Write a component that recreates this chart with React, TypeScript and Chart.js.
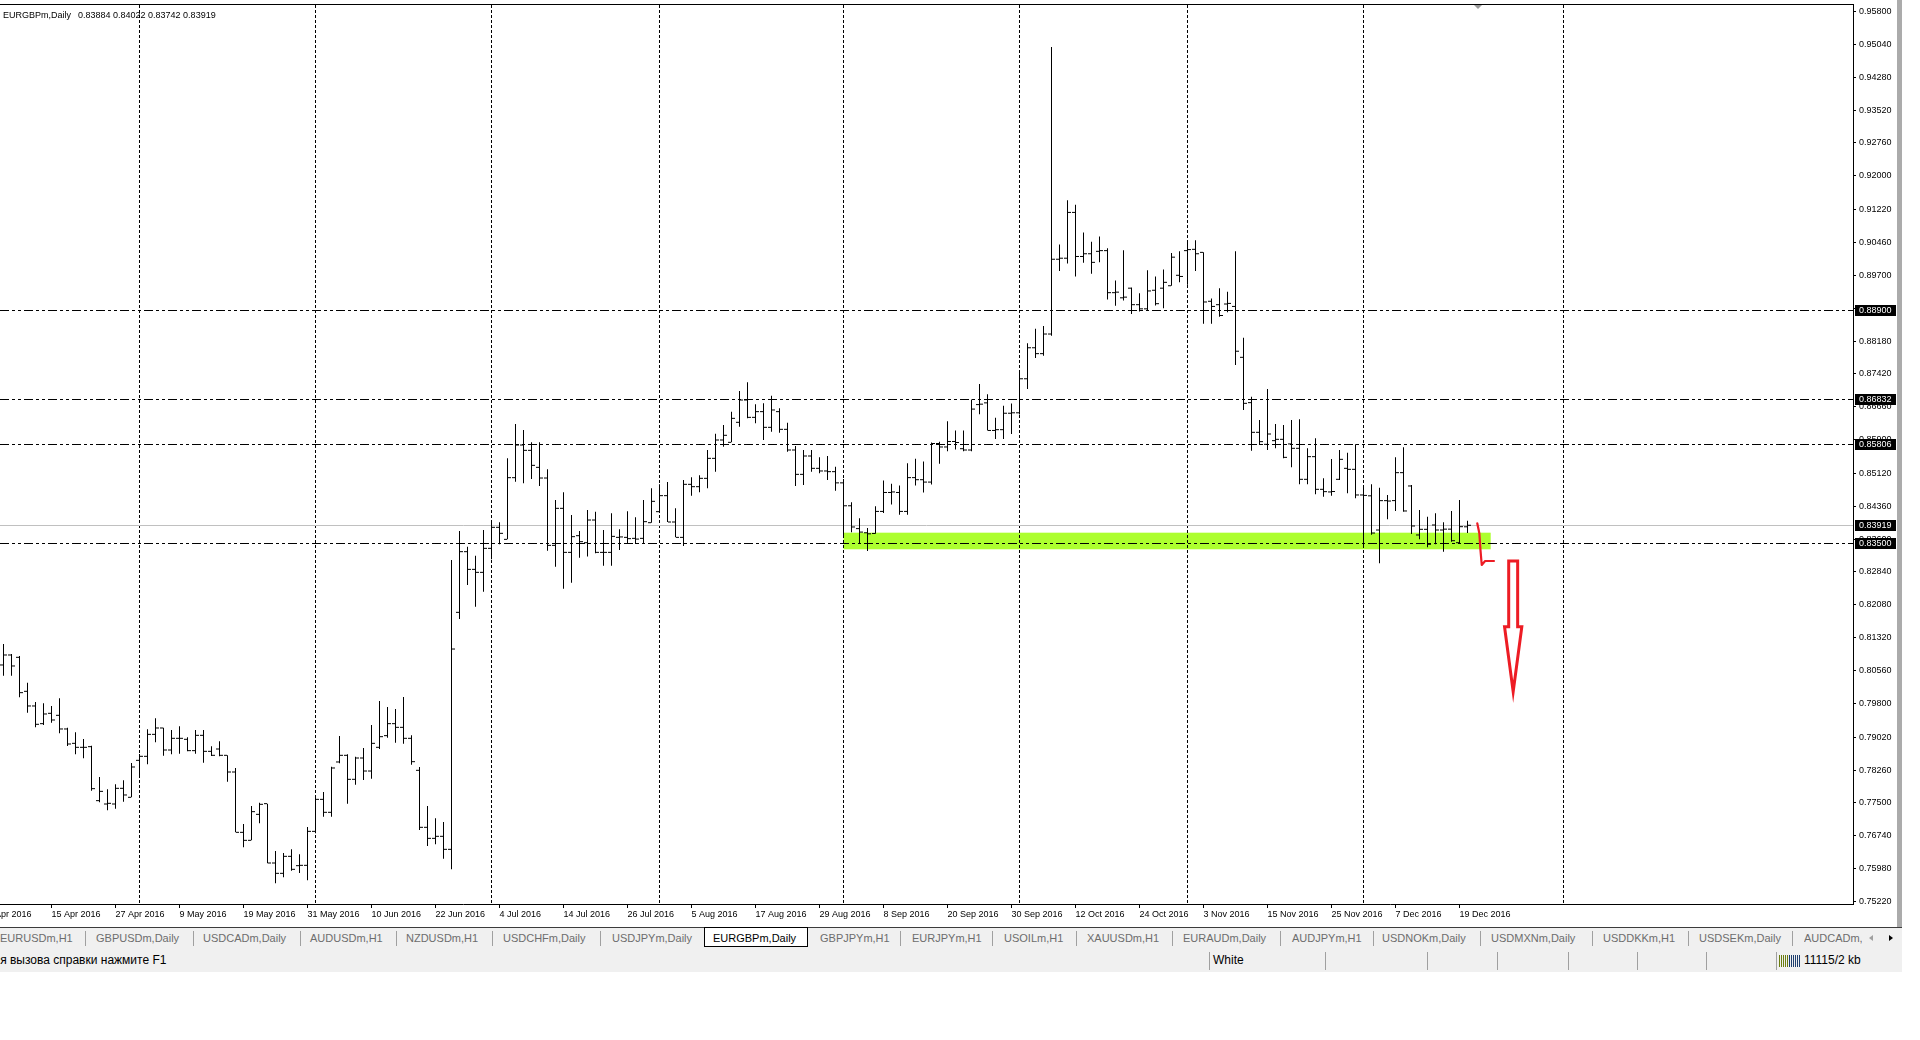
import React, { useEffect, useRef } from "react";
import { Chart, registerables } from "chart.js";

Chart.register(...registerables);

// ---- OHLC data (EURGBPm, Daily), bar 0 = 7 Apr 2016 ... bar 183 = 20 Dec 2016 ----
const OPEN = [
  0.80689, 0.80920, 0.80866, 0.80080, 0.79741, 0.79332, 0.79571, 0.79525, 0.79209, 0.78877,
  0.78785, 0.78800, 0.77552, 0.77474, 0.77474, 0.77837, 0.77629, 0.78484, 0.78577, 0.79085,
  0.79232, 0.78723, 0.78993, 0.78970, 0.78708, 0.79062, 0.78692, 0.78746, 0.78600, 0.78214,
  0.76819, 0.76634, 0.77235, 0.77482, 0.76110, 0.75871, 0.76264, 0.76048, 0.76056, 0.76842,
  0.77582, 0.77282, 0.78446, 0.78600, 0.78045, 0.78538, 0.78237, 0.78785, 0.79055, 0.79332,
  0.79247, 0.78993, 0.78253, 0.76935, 0.76680, 0.76727, 0.76426, 0.81906, 0.83309, 0.82900,
  0.82831, 0.83386, 0.83872, 0.83594, 0.85020, 0.85775, 0.85652, 0.85259, 0.85012, 0.83455,
  0.84311, 0.83293, 0.83679, 0.83517, 0.84041, 0.83293, 0.83293, 0.83640, 0.83640, 0.83617,
  0.83617, 0.83979, 0.84234, 0.84604, 0.83995, 0.83640, 0.84866, 0.84812, 0.85005, 0.85467,
  0.85891, 0.85837, 0.86300, 0.86816, 0.86415, 0.86547, 0.86184, 0.86547, 0.86138, 0.85660,
  0.85097, 0.85521, 0.85236, 0.85175, 0.85159, 0.84900, 0.84370, 0.83842, 0.83746, 0.83730,
  0.84240, 0.84678, 0.84678, 0.84240, 0.85021, 0.84973, 0.84918, 0.85810, 0.85730, 0.85857,
  0.85690, 0.85660, 0.86710, 0.86750, 0.86112, 0.86130, 0.86510, 0.86520, 0.87307, 0.88024,
  0.87888, 0.88342, 0.90071, 0.90095, 0.91154, 0.90135, 0.90198, 0.90254, 0.90270, 0.89298,
  0.89179, 0.89402, 0.89020, 0.88924, 0.89354, 0.89402, 0.89458, 0.89700, 0.90270, 0.90300,
  0.90230, 0.89099, 0.89020, 0.89036, 0.88980, 0.87803, 0.86755, 0.86069, 0.85791, 0.85876,
  0.85907, 0.85800, 0.85699, 0.84982, 0.85506, 0.84751, 0.84690, 0.84982, 0.85236, 0.85213,
  0.84620, 0.84600, 0.83810, 0.84489, 0.84490, 0.85136, 0.84828, 0.83695, 0.83826, 0.83926,
  0.83810, 0.83830, 0.83517, 0.83884,
];
const HIGH = [
  0.81174, 0.80943, 0.80897, 0.80280, 0.79833, 0.79802, 0.79741, 0.79918, 0.79240, 0.79132,
  0.78977, 0.78823, 0.78099, 0.77814, 0.77929, 0.78022, 0.78423, 0.78631, 0.79201, 0.79455,
  0.79240, 0.79186, 0.79270, 0.79016, 0.79186, 0.79186, 0.78808, 0.78924, 0.78600, 0.78307,
  0.77012, 0.77428, 0.77505, 0.77482, 0.76388, 0.76341, 0.76426, 0.76311, 0.76943, 0.77644,
  0.77752, 0.78338, 0.79047, 0.78623, 0.78569, 0.78769, 0.79301, 0.79856, 0.79717, 0.79671,
  0.79949, 0.79062, 0.78330, 0.77428, 0.77143, 0.77058, 0.83117, 0.83787, 0.83424, 0.83216,
  0.83810, 0.84026, 0.83987, 0.85467, 0.86261, 0.86122, 0.85837, 0.85837, 0.85213, 0.84504,
  0.84681, 0.84157, 0.83787, 0.84272, 0.84234, 0.83810, 0.84195, 0.83825, 0.84242, 0.84103,
  0.84504, 0.84773, 0.84866, 0.84920, 0.84311, 0.84966, 0.85028, 0.85074, 0.85660, 0.86036,
  0.86238, 0.86547, 0.87024, 0.87225, 0.86716, 0.86739, 0.86916, 0.86624, 0.86292, 0.85753,
  0.85660, 0.85660, 0.85490, 0.85521, 0.85275, 0.84990, 0.84450, 0.84081, 0.83858, 0.84360,
  0.84957, 0.84878, 0.84838, 0.85356, 0.85459, 0.85395, 0.85833, 0.85850, 0.86327, 0.86112,
  0.86112, 0.86829, 0.87188, 0.86949, 0.86407, 0.86686, 0.86734, 0.87506, 0.88127, 0.88462,
  0.88526, 0.94977, 0.90413, 0.91433, 0.91329, 0.90692, 0.90477, 0.90597, 0.90326, 0.89577,
  0.90278, 0.89418, 0.89282, 0.89816, 0.89673, 0.89832, 0.90214, 0.90254, 0.90469, 0.90509,
  0.90230, 0.89163, 0.89402, 0.89322, 0.90254, 0.88258, 0.86893, 0.86354, 0.87071, 0.86261,
  0.86238, 0.86354, 0.86369, 0.85699, 0.85930, 0.85005, 0.85452, 0.85660, 0.85598, 0.85791,
  0.84828, 0.84870, 0.84789, 0.84620, 0.85490, 0.85722, 0.84851, 0.84273, 0.84119, 0.84196,
  0.83987, 0.84250, 0.84504, 0.84022,
];
const LOW = [
  0.80442, 0.80442, 0.79941, 0.79586, 0.79247, 0.79301, 0.79355, 0.79109, 0.78816, 0.78623,
  0.78530, 0.77783, 0.77513, 0.77328, 0.77367, 0.77528, 0.77629, 0.78137, 0.78392, 0.78900,
  0.78592, 0.78623, 0.78638, 0.78692, 0.78638, 0.78430, 0.78584, 0.78577, 0.77991, 0.76819,
  0.76472, 0.76634, 0.77027, 0.76102, 0.75640, 0.75779, 0.75933, 0.75879, 0.75709, 0.76796,
  0.77182, 0.77182, 0.78415, 0.77482, 0.77921, 0.78029, 0.78060, 0.78746, 0.79008, 0.78893,
  0.78870, 0.78384, 0.76873, 0.76503, 0.76542, 0.76210, 0.75963, 0.81752, 0.82538, 0.82037,
  0.82384, 0.83132, 0.83478, 0.83594, 0.84928, 0.84889, 0.84989, 0.84827, 0.83332, 0.82962,
  0.82453, 0.82592, 0.83170, 0.83200, 0.83270, 0.82985, 0.82985, 0.83347, 0.83486, 0.83486,
  0.83486, 0.83979, 0.84234, 0.83995, 0.83640, 0.83440, 0.84604, 0.84681, 0.84773, 0.85159,
  0.85737, 0.85837, 0.86200, 0.86392, 0.86277, 0.85891, 0.86084, 0.86060, 0.85622, 0.84827,
  0.84851, 0.85159, 0.85121, 0.84966, 0.84720, 0.83650, 0.83760, 0.83500, 0.83324, 0.83722,
  0.84201, 0.84400, 0.84161, 0.84161, 0.84838, 0.84678, 0.84862, 0.85340, 0.85634, 0.85674,
  0.85634, 0.85634, 0.86487, 0.86112, 0.85913, 0.85913, 0.86032, 0.86480, 0.87068, 0.87785,
  0.87841, 0.88303, 0.89800, 0.89975, 0.89673, 0.89991, 0.89736, 0.89999, 0.89139, 0.88996,
  0.89115, 0.88804, 0.88860, 0.88900, 0.89000, 0.88940, 0.89458, 0.89537, 0.89481, 0.89800,
  0.88581, 0.88581, 0.88741, 0.88844, 0.87626, 0.86585, 0.85645, 0.85776, 0.85660, 0.85699,
  0.85467, 0.85259, 0.84866, 0.84866, 0.84635, 0.84581, 0.84600, 0.84966, 0.84658, 0.84542,
  0.83463, 0.83700, 0.83039, 0.84057, 0.84250, 0.84234, 0.83718, 0.83594, 0.83409, 0.83479,
  0.83309, 0.83540, 0.83502, 0.83742,
];
const CLOSE = [
  0.80920, 0.80666, 0.80049, 0.79741, 0.79317, 0.79556, 0.79417, 0.79209, 0.78862, 0.78785,
  0.78785, 0.77829, 0.77767, 0.77490, 0.77837, 0.77683, 0.78330, 0.78577, 0.79085, 0.79232,
  0.78723, 0.78993, 0.78993, 0.78708, 0.79062, 0.78692, 0.78600, 0.78600, 0.78214, 0.76819,
  0.76634, 0.77297, 0.77467, 0.76110, 0.75871, 0.76264, 0.75964, 0.76056, 0.76842, 0.77582,
  0.77282, 0.78307, 0.78600, 0.78045, 0.78538, 0.78237, 0.78877, 0.79031, 0.79332, 0.79247,
  0.78993, 0.78453, 0.76935, 0.76680, 0.76727, 0.76426, 0.81058, 0.83309, 0.82900, 0.82831,
  0.83386, 0.83872, 0.83733, 0.85020, 0.85775, 0.85652, 0.85305, 0.85012, 0.83455, 0.84311,
  0.83293, 0.83656, 0.83540, 0.84041, 0.83293, 0.83293, 0.83663, 0.83650, 0.83610, 0.83600,
  0.84003, 0.84473, 0.84604, 0.83995, 0.83640, 0.84866, 0.84812, 0.85005, 0.85467, 0.85891,
  0.86000, 0.86392, 0.86816, 0.86415, 0.86547, 0.86184, 0.86585, 0.86138, 0.85660, 0.85097,
  0.85521, 0.85236, 0.85175, 0.85159, 0.84900, 0.84370, 0.83880, 0.83762, 0.83722, 0.84240,
  0.84678, 0.84690, 0.84240, 0.85021, 0.84973, 0.84918, 0.85810, 0.85730, 0.85857, 0.85833,
  0.85660, 0.86606, 0.86720, 0.86112, 0.86130, 0.86510, 0.86520, 0.87307, 0.88024, 0.87888,
  0.88342, 0.90071, 0.90095, 0.91154, 0.90135, 0.90198, 0.89999, 0.90270, 0.89298, 0.89310,
  0.89195, 0.89020, 0.88924, 0.89338, 0.89043, 0.89537, 0.90119, 0.89673, 0.90294, 0.90198,
  0.89083, 0.88980, 0.88770, 0.89050, 0.87944, 0.86739, 0.86069, 0.85853, 0.86030, 0.85907,
  0.85490, 0.85699, 0.84982, 0.85506, 0.84751, 0.84697, 0.84700, 0.85444, 0.85213, 0.84620,
  0.84610, 0.83740, 0.84489, 0.84480, 0.85136, 0.84250, 0.83903, 0.83826, 0.83479, 0.83810,
  0.83830, 0.83563, 0.83887, 0.83919,
];

// ---- axis labels ----
const DATE_LABELS = [
  "5 Apr 2016", "15 Apr 2016", "27 Apr 2016", "9 May 2016", "19 May 2016", "31 May 2016",
  "10 Jun 2016", "22 Jun 2016", "4 Jul 2016", "14 Jul 2016", "26 Jul 2016", "5 Aug 2016",
  "17 Aug 2016", "29 Aug 2016", "8 Sep 2016", "20 Sep 2016", "30 Sep 2016", "12 Oct 2016",
  "24 Oct 2016", "3 Nov 2016", "15 Nov 2016", "25 Nov 2016", "7 Dec 2016", "19 Dec 2016",
];
const DATE_TICK_INDEX = [
  -2, 6, 14, 22, 30, 38, 46, 54, 62, 70, 78, 86, 94, 102, 110, 118, 126, 134, 142, 150, 158, 166, 174, 182,
];
const MONTH_START_INDEX = [17, 39, 61, 82, 105, 127, 148, 170, 195];
const PRICE_TICKS = [
  0.958, 0.9504, 0.9428, 0.9352, 0.9276, 0.92, 0.9122, 0.9046, 0.897, 0.8894, 0.8818, 0.8742,
  0.8666, 0.859, 0.8512, 0.8436, 0.836, 0.8284, 0.8208, 0.8132, 0.8056, 0.798, 0.7902, 0.7826,
  0.775, 0.7674, 0.7598, 0.7522,
];

// ---- horizontal levels, bid, zone and hand annotations (in data units) ----
const LEVELS = [0.889, 0.86832, 0.85806, 0.835];
const BID = 0.83919;
const HEADER_VALUES = ["0.83884", "0.84022", "0.83742", "0.83919"];
const ZONE_FROM = 105;
const ZONE_TO = 185.9;
const ZONE_TOP = 0.83748;
const ZONE_BOTTOM = 0.83364;
const HOOK_X = [184.22, 184.48, 184.62, 184.78, 185.2, 186.31];
const HOOK_Y = [0.83965, 0.83734, 0.83350, 0.83001, 0.83093, 0.83093];
const ARROW_X = 188.71;
const ARROW_TOP = 0.83093;
const ARROW_NECK = 0.81574;
const ARROW_TIP = 0.80071;
const ARROW_SHAFT_HALF = 0.56;
const ARROW_HEAD_HALF = 1.08;

// ---- terminal chrome ----
const TAB_NAMES = [
  "EURUSDm,H1", "GBPUSDm,Daily", "USDCADm,Daily", "AUDUSDm,H1", "NZDUSDm,H1", "USDCHFm,Daily",
  "USDJPYm,Daily", "EURGBPm,Daily", "GBPJPYm,H1", "EURJPYm,H1", "USOILm,H1", "XAUUSDm,H1",
  "EURAUDm,Daily", "AUDJPYm,H1", "USDNOKm,Daily", "USDMXNm,Daily", "USDDKKm,H1", "USDSEKm,Daily",
  "AUDCADm,Daily",
];
const TAB_LEFT = [0, 96, 203, 310, 406, 503, 612, 713, 820, 912, 1004, 1087, 1183, 1292, 1382, 1491, 1603, 1699, 1804];
const TAB_SEPS = [85, 193, 300, 396, 492, 600, 900, 992, 1076, 1172, 1280, 1373, 1480, 1592, 1688, 1792];
const ACTIVE_TAB = 7;
const STATUS_SEPS = [1209, 1325, 1427, 1497, 1568, 1637, 1706, 1776];

const FONT = '"Liberation Sans", Arial, sans-serif';

const zeroPad = (s: any) => {
  s.paddingLeft = 0;
  s.paddingRight = 0;
  s.paddingTop = 0;
  s.paddingBottom = 0;
};

const mt4Overlay = {
  id: "mt4Overlay",
  beforeDatasetsDraw(chart: any) {
    const { ctx, chartArea: a } = chart;
    const x = chart.scales.x;
    const y = chart.scales.y;
    ctx.save();
    // highlighted zone
    const zx0 = x.getPixelForValue(ZONE_FROM);
    const zx1 = x.getPixelForValue(ZONE_TO);
    const zy0 = y.getPixelForValue(ZONE_TOP);
    const zy1 = y.getPixelForValue(ZONE_BOTTOM);
    ctx.fillStyle = "#adff2f";
    ctx.fillRect(zx0, zy0, zx1 - zx0, zy1 - zy0);
    // month grid
    ctx.lineWidth = 1;
    ctx.strokeStyle = "#000";
    ctx.setLineDash([3, 2]);
    MONTH_START_INDEX.forEach((m) => {
      const px = Math.floor(x.getPixelForValue(m)) + 0.5;
      ctx.beginPath();
      ctx.moveTo(px, a.top);
      ctx.lineTo(px, a.bottom);
      ctx.stroke();
    });
    // bid line
    ctx.setLineDash([]);
    ctx.strokeStyle = "#c0c0c0";
    const by = Math.round(y.getPixelForValue(BID)) + 0.5;
    ctx.beginPath();
    ctx.moveTo(a.left, by);
    ctx.lineTo(a.right, by);
    ctx.stroke();
    // levels
    ctx.strokeStyle = "#000";
    ctx.setLineDash([9, 3, 3, 3, 3, 3]);
    LEVELS.forEach((v) => {
      const py = Math.round(y.getPixelForValue(v)) + 0.5;
      ctx.beginPath();
      ctx.moveTo(a.left, py);
      ctx.lineTo(a.right, py);
      ctx.stroke();
    });
    ctx.restore();
  },
  afterDraw(chart: any) {
    const { ctx, chartArea: a } = chart;
    const x = chart.scales.x;
    const y = chart.scales.y;
    ctx.save();
    // top frame line
    ctx.fillStyle = "#000";
    ctx.fillRect(0, a.top - 1, a.right + 1, 1);
    // price boxes
    ctx.font = `9px ${FONT}`;
    ctx.textBaseline = "middle";
    ctx.textAlign = "left";
    [...LEVELS, BID].forEach((v) => {
      const py = Math.round(y.getPixelForValue(v));
      ctx.fillStyle = "#000";
      ctx.fillRect(a.right + 2, py - 5, 41, 11);
      ctx.fillStyle = "#fff";
      ctx.fillText(v.toFixed(5), a.right + 6, py + 0.5);
    });
    // chart shift marker
    ctx.fillStyle = "#9a9a9a";
    const sx = Math.round(x.getPixelForValue(184.3));
    ctx.beginPath();
    ctx.moveTo(sx - 4, a.top);
    ctx.lineTo(sx + 4, a.top);
    ctx.lineTo(sx, a.top + 4);
    ctx.closePath();
    ctx.fill();
    // red hand-drawn hook
    ctx.strokeStyle = "#ed1c24";
    ctx.lineJoin = "round";
    ctx.lineCap = "round";
    ctx.lineWidth = 2.2;
    ctx.beginPath();
    HOOK_X.forEach((hx, i) => {
      const px = x.getPixelForValue(hx);
      const py = y.getPixelForValue(HOOK_Y[i]);
      if (i === 0) ctx.moveTo(px, py);
      else ctx.lineTo(px, py);
    });
    ctx.stroke();
    // red hollow arrow
    ctx.lineWidth = 3;
    ctx.lineJoin = "miter";
    const ax = x.getPixelForValue(ARROW_X);
    const sh = x.getPixelForValue(ARROW_X + ARROW_SHAFT_HALF) - ax;
    const hh = x.getPixelForValue(ARROW_X + ARROW_HEAD_HALF) - ax;
    const yt = y.getPixelForValue(ARROW_TOP);
    const yn = y.getPixelForValue(ARROW_NECK);
    const yp = y.getPixelForValue(ARROW_TIP);
    ctx.beginPath();
    ctx.moveTo(ax - sh, yt);
    ctx.lineTo(ax + sh, yt);
    ctx.lineTo(ax + sh, yn);
    ctx.lineTo(ax + hh, yn);
    ctx.lineTo(ax + hh * 0.55, yn + (yp - yn) * 0.45);
    ctx.lineTo(ax, yp);
    ctx.lineTo(ax - hh * 0.55, yn + (yp - yn) * 0.45);
    ctx.lineTo(ax - hh, yn);
    ctx.lineTo(ax - sh, yn);
    ctx.closePath();
    ctx.stroke();
    ctx.restore();
  },
};

export default function App() {
  const ref = useRef<HTMLCanvasElement>(null);

  useEffect(() => {
    const idx = OPEN.map((_, i) => i);
    const tickStyle = {
      type: "scatter",
      pointStyle: "line",
      pointRadius: 1.5,
      pointHoverRadius: 0,
      pointHitRadius: 0,
      pointBorderWidth: 1,
      pointBorderColor: "#000",
      pointBackgroundColor: "#000",
      showLine: false,
    };
    const chart = new Chart(ref.current as HTMLCanvasElement, {
      type: "bar",
      data: {
        datasets: [
          {
            type: "bar",
            data: idx.map((i) => ({ x: i, y: [LOW[i], HIGH[i]] })) as any,
            backgroundColor: "#000",
            borderWidth: 0,
            barThickness: 1,
            inflateAmount: 0,
            grouped: false,
          } as any,
          { ...tickStyle, data: idx.map((i) => ({ x: i - 0.25, y: OPEN[i] })) } as any,
          { ...tickStyle, data: idx.map((i) => ({ x: i + 0.25, y: CLOSE[i] })) } as any,
        ],
      },
      options: {
        responsive: false,
        animation: false,
        devicePixelRatio: 1,
        events: [],
        layout: { autoPadding: false, padding: { top: 5, left: 0, right: 0, bottom: 0 } },
        plugins: { legend: { display: false }, tooltip: { enabled: false } },
        scales: {
          x: {
            type: "linear",
            min: -0.4375,
            max: 231.1875,
            offset: false,
            bounds: "data",
            afterBuildTicks: (s: any) => {
              s.ticks = DATE_TICK_INDEX.map((v) => ({ value: v }));
            },
            afterFit: (s: any) => {
              s.height = 23;
              zeroPad(s);
            },
            ticks: {
              callback: (_v: any, i: number) => DATE_LABELS[i],
              align: "start",
              autoSkip: false,
              maxRotation: 0,
              minRotation: 0,
              padding: 1,
              color: "#000",
              font: { family: FONT, size: 9 },
            },
            grid: { drawOnChartArea: false, tickLength: 4, color: "#000", offset: false },
            border: { display: true, color: "#000" },
          } as any,
          y: {
            type: "linear",
            position: "right",
            min: 0.75162,
            max: 0.9595,
            beginAtZero: false,
            bounds: "data",
            afterBuildTicks: (s: any) => {
              s.ticks = PRICE_TICKS.map((v) => ({ value: v }));
            },
            afterFit: (s: any) => {
              s.width = 44;
              zeroPad(s);
            },
            ticks: {
              callback: (v: any) => Number(v).toFixed(5),
              autoSkip: false,
              padding: 3,
              color: "#000",
              font: { family: FONT, size: 9 },
            },
            grid: { drawOnChartArea: false, tickLength: 3, color: "#000" },
            border: { display: true, color: "#000" },
          } as any,
        },
      },
      plugins: [mt4Overlay],
    } as any);
    return () => chart.destroy();
  }, []);

  const tabText = (name: string, i: number) => (
    <span
      key={name}
      style={{
        position: "absolute",
        left: TAB_LEFT[i],
        top: 0,
        lineHeight: "21px",
        fontSize: 11,
        color: i === ACTIVE_TAB ? "#000" : "#6d6d6d",
        whiteSpace: "nowrap",
        zIndex: 2,
        ...(i === TAB_NAMES.length - 1 ? { width: 58, overflow: "hidden" } : {}),
      }}
    >
      {name}
    </span>
  );

  return (
    <div
      style={{
        position: "fixed",
        left: 0,
        top: 0,
        width: 1920,
        height: 1040,
        background: "#fff",
        overflow: "hidden",
        fontFamily: FONT,
      }}
    >
      <canvas
        ref={ref}
        width={1897}
        height={927}
        style={{ position: "absolute", left: 0, top: 0, width: 1897, height: 927 }}
      />
      <div
        style={{
          position: "absolute",
          left: 3,
          top: 9,
          fontSize: 9,
          lineHeight: "12px",
          color: "#000",
          whiteSpace: "nowrap",
        }}
      >
        EURGBPm,Daily
        <span style={{ marginLeft: 7 }}>{HEADER_VALUES.join(" ")}</span>
      </div>
      {/* right edge strip */}
      <div style={{ position: "absolute", left: 1897, top: 0, width: 5, height: 927, background: "#ababab" }} />
      {/* tab bar */}
      <div
        style={{
          position: "absolute",
          left: 0,
          top: 927,
          width: 1902,
          height: 23,
          background: "#f0f0f0",
          borderTop: "1px solid #3c3c3c",
          boxSizing: "border-box",
        }}
      >
        <div
          style={{
            position: "absolute",
            left: 704,
            top: -1,
            width: 104,
            height: 20,
            background: "#fff",
            border: "1px solid #000",
            boxSizing: "border-box",
          }}
        />
        {TAB_NAMES.map(tabText)}
        {TAB_SEPS.map((sx) => (
          <div key={sx} style={{ position: "absolute", left: sx, top: 3, width: 1, height: 15, background: "#a0a0a0" }} />
        ))}
        <div
          style={{
            position: "absolute",
            left: 1869,
            top: 7,
            width: 0,
            height: 0,
            borderTop: "3px solid transparent",
            borderBottom: "3px solid transparent",
            borderRight: "4px solid #a0a0a0",
          }}
        />
        <div
          style={{
            position: "absolute",
            left: 1889,
            top: 7,
            width: 0,
            height: 0,
            borderTop: "3px solid transparent",
            borderBottom: "3px solid transparent",
            borderLeft: "4px solid #000",
          }}
        />
      </div>
      {/* status bar */}
      <div
        style={{
          position: "absolute",
          left: 0,
          top: 950,
          width: 1902,
          height: 22,
          background: "#f0f0f0",
          overflow: "hidden",
          fontSize: 12,
          color: "#000",
        }}
      >
        <span style={{ position: "absolute", left: -15, top: 0, lineHeight: "21px", whiteSpace: "nowrap" }}>
          Для вызова справки нажмите F1
        </span>
        <span style={{ position: "absolute", left: 1213, top: 0, lineHeight: "21px" }}>White</span>
        {STATUS_SEPS.map((sx) => (
          <div key={sx} style={{ position: "absolute", left: sx, top: 2, width: 1, height: 18, background: "#a0a0a0" }} />
        ))}
        <div style={{ position: "absolute", left: 1779, top: 5, height: 12, display: "flex", gap: 1 }}>
          {["#6b7d10", "#6b7d10", "#6b7d10", "#6b7d10", "#6b7d10", "#1f3f6f", "#1f3f6f", "#1f3f6f", "#1f3f6f", "#1f3f6f", "#1f3f6f"].map(
            (c, i) => (
              <div key={i} style={{ width: 1, height: 12, background: c }} />
            )
          )}
        </div>
        <span style={{ position: "absolute", left: 1804, top: 0, lineHeight: "21px", whiteSpace: "nowrap" }}>
          11115/2 kb
        </span>
      </div>
    </div>
  );
}
